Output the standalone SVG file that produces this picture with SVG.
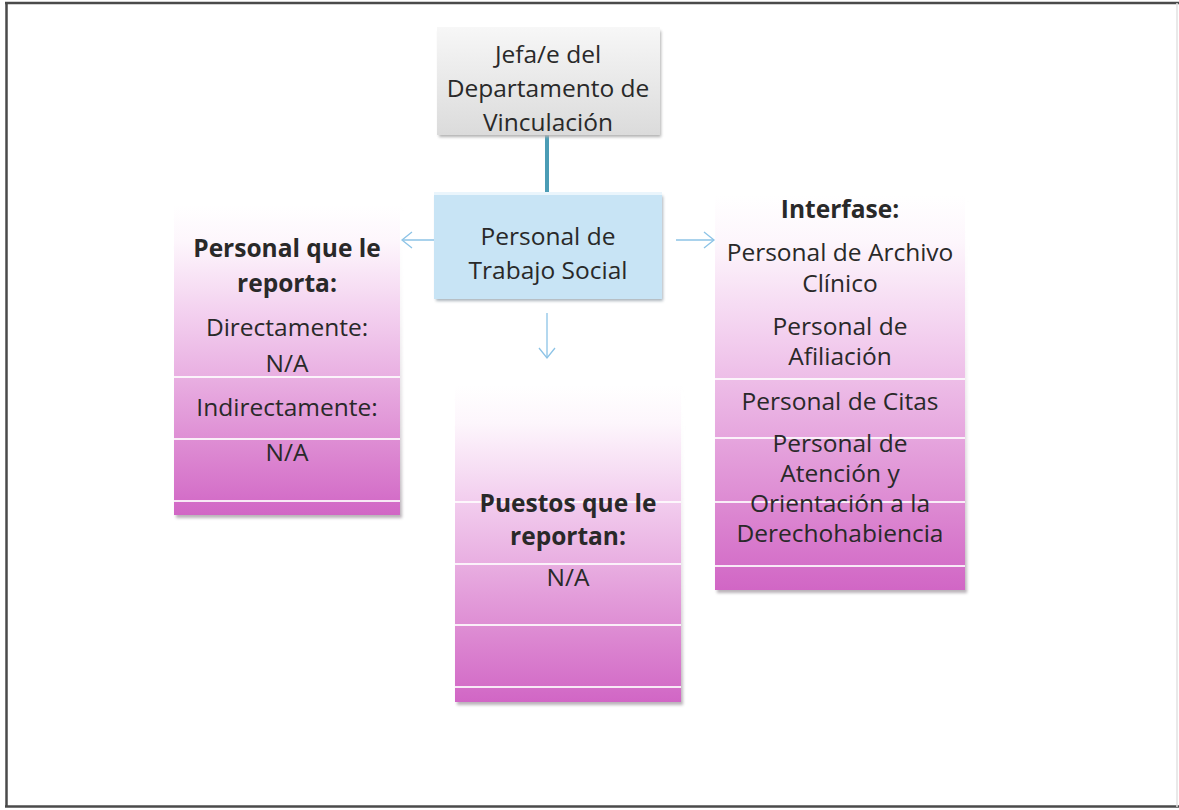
<svg xmlns="http://www.w3.org/2000/svg" width="1179" height="810" viewBox="0 0 1179 810">
<defs>
<style>
text{font-family:"Open Sans","Liberation Sans",sans-serif;font-size:24.5px;fill:#292929;text-anchor:middle}
.b{font-weight:bold}
.div{stroke:#ffffff;stroke-width:2;opacity:.85}
.arr{stroke:#8cc3e6;stroke-width:1.3;fill:none}
.shp{fill:url(#pinksh)}
</style>
<linearGradient id="pink" x1="0" y1="0" x2="0" y2="1">
<stop offset="0" stop-color="#ffffff"/>
<stop offset="0.12" stop-color="#fdf6fc"/>
<stop offset="0.35" stop-color="#f3d0ef"/>
<stop offset="0.55" stop-color="#e9b0e2"/>
<stop offset="0.8" stop-color="#dc87d1"/>
<stop offset="1" stop-color="#d166c5"/>
</linearGradient>
<linearGradient id="pinksh" x1="0" y1="0" x2="0" y2="1">
<stop offset="0" stop-color="#ffffff" stop-opacity="0"/>
<stop offset="0.4" stop-color="#e6e0e5" stop-opacity="0.5"/>
<stop offset="1" stop-color="#b9b2b8"/>
</linearGradient>
<linearGradient id="gray" x1="0" y1="0" x2="0" y2="1">
<stop offset="0" stop-color="#f7f7f7"/>
<stop offset="1" stop-color="#dbdbdb"/>
</linearGradient>
<filter id="sh" x="-10%" y="-10%" width="120%" height="130%">
<feGaussianBlur stdDeviation="1.5"/>
</filter>
<marker id="ah" markerUnits="userSpaceOnUse" markerWidth="14" markerHeight="18" refX="11" refY="9" orient="auto">
<path d="M1,1 L11,9 L1,17" fill="none" stroke="#8cc3e6" stroke-width="1.3"/>
</marker>
</defs>
<rect width="1179" height="810" fill="#ffffff"/>
<g id="frame">
<line x1="5" y1="3" x2="1179" y2="3" stroke="#4a4a4a" stroke-width="2.5"/>
<line x1="6.5" y1="3" x2="6.5" y2="807" stroke="#4a4a4a" stroke-width="2.5"/>
<line x1="5" y1="806.5" x2="1179" y2="806.5" stroke="#4a4a4a" stroke-width="2.5"/>
<line x1="1177" y1="3" x2="1177" y2="807" stroke="#e2e2e2" stroke-width="1.5"/>
</g>
<g id="connectors">
<line x1="547" y1="135" x2="547" y2="192" stroke="#4b9cb5" stroke-width="4"/>
<line class="arr" x1="437" y1="240" x2="402" y2="240" marker-end="url(#ah)"/>
<line class="arr" x1="676" y1="240" x2="714" y2="240" marker-end="url(#ah)"/>
<line class="arr" x1="547" y1="313" x2="547" y2="358" marker-end="url(#ah)"/>
</g>
<g id="jefa">
<rect x="439" y="31" width="222" height="106" fill="#b0b0b0" filter="url(#sh)"/>
<rect x="437" y="27" width="223" height="108" fill="url(#gray)"/>
<text><tspan x="548" y="63">Jefa/e del</tspan><tspan x="548" y="97">Departamento de</tspan><tspan x="548" y="131">Vinculación</tspan></text>
</g>
<g id="trabajo-social">
<rect x="436" y="196" width="227" height="105" fill="#aab4bb" filter="url(#sh)"/>
<rect x="434" y="192" width="228" height="107" fill="#c8e4f5"/>
<line x1="434" y1="193.5" x2="662" y2="193.5" stroke="#eaf5fc" stroke-width="3"/>
<text><tspan x="548" y="245">Personal de</tspan><tspan x="548" y="279">Trabajo Social</tspan></text>
</g>
<g id="personal-reporta">
<rect class="shp" x="176" y="207" width="226" height="311" filter="url(#sh)"/>
<rect x="174" y="205" width="226" height="310" fill="url(#pink)"/>
<line class="div" x1="174" y1="377" x2="400" y2="377"/>
<line class="div" x1="174" y1="439" x2="400" y2="439"/>
<line class="div" x1="174" y1="501" x2="400" y2="501"/>
<text class="b"><tspan x="287" y="257">Personal que le</tspan><tspan x="287" y="292">reporta:</tspan></text>
<text x="287" y="336">Directamente:</text>
<text x="287" y="372">N/A</text>
<text x="287" y="416">Indirectamente:</text>
<text x="287" y="461">N/A</text>
</g>
<g id="puestos-reportan">
<rect class="shp" x="457" y="387" width="226" height="318" filter="url(#sh)"/>
<rect x="455" y="385" width="226" height="317" fill="url(#pink)"/>
<line class="div" x1="455" y1="502" x2="681" y2="502"/>
<line class="div" x1="455" y1="564" x2="681" y2="564"/>
<line class="div" x1="455" y1="625" x2="681" y2="625"/>
<line class="div" x1="455" y1="687" x2="681" y2="687"/>
<text class="b"><tspan x="568" y="512">Puestos que le</tspan><tspan x="568" y="545">reportan:</tspan></text>
<text x="568" y="586">N/A</text>
</g>
<g id="interfase">
<rect class="shp" x="717" y="197" width="250" height="396" filter="url(#sh)"/>
<rect x="715" y="195" width="250" height="395" fill="url(#pink)"/>
<line class="div" x1="715" y1="379" x2="965" y2="379"/>
<line class="div" x1="715" y1="438" x2="965" y2="438"/>
<line class="div" x1="715" y1="502" x2="965" y2="502"/>
<line class="div" x1="715" y1="566" x2="965" y2="566"/>
<text class="b" x="840" y="218">Interfase:</text>
<text><tspan x="840" y="261">Personal de Archivo</tspan><tspan x="840" y="292">Clínico</tspan></text>
<text><tspan x="840" y="335">Personal de</tspan><tspan x="840" y="365">Afiliación</tspan></text>
<text x="840" y="410">Personal de Citas</text>
<text><tspan x="840" y="452">Personal de</tspan><tspan x="840" y="482">Atención y</tspan><tspan x="840" y="512">Orientación a la</tspan><tspan x="840" y="542">Derechohabiencia</tspan></text>
</g>
</svg>
